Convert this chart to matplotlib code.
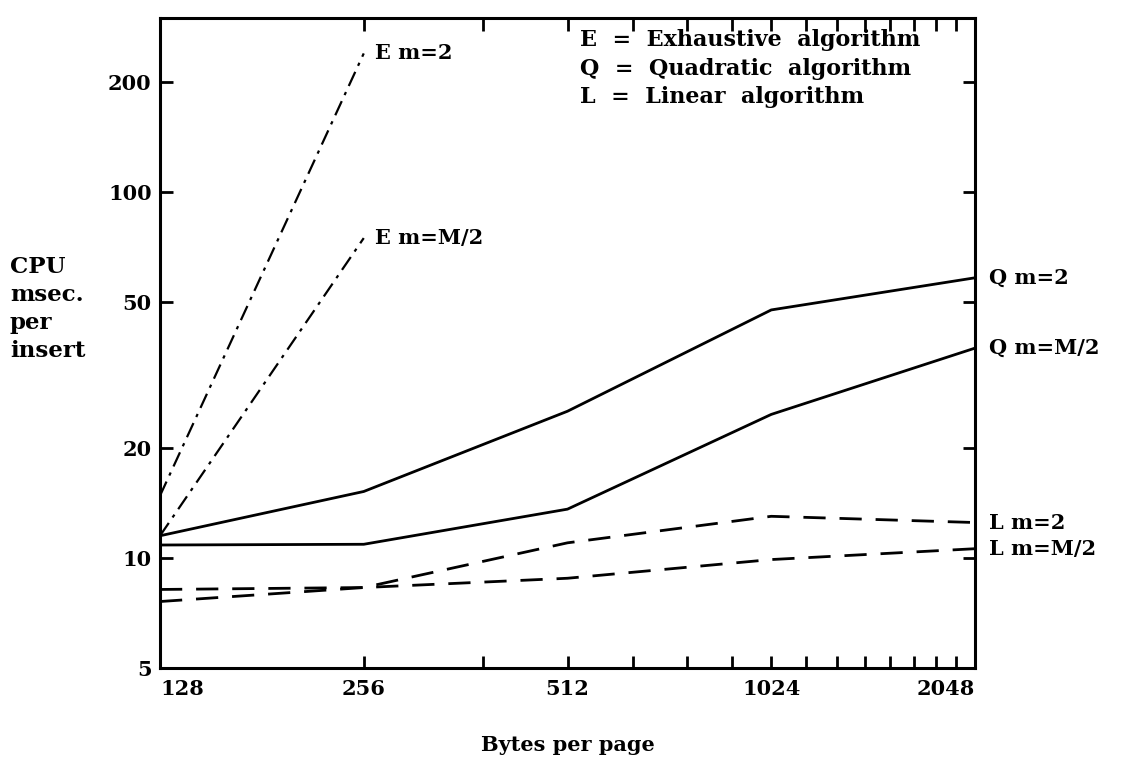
import matplotlib
matplotlib.use("Agg")
import matplotlib.pyplot as plt
from matplotlib.ticker import FixedLocator, NullLocator

plt.rcParams['font.family'] = ['DejaVu Serif']
plt.rcParams['font.weight'] = 'bold'

# Data
bytes_per_page = [128, 256, 512, 1024, 2048]
e_x = [128, 256]
e_m2 = [14.8, 240]
e_mhalf = [11.5, 75]
q_m2 = [11.5, 15.2, 25.2, 47.7, 58.4]
q_mhalf = [10.85, 10.9, 13.6, 24.7, 37.5]
l_m2 = [8.2, 8.3, 11.0, 13.0, 12.5]
l_mhalf = [7.6, 8.3, 8.8, 9.9, 10.6]

x_tick_labels = ['128', '256', '512', '1024', '2048']
y_ticks = [5, 10, 20, 50, 100, 200]
legend_lines = ['E  =  Exhaustive  algorithm', 'Q  =  Quadratic  algorithm', 'L  =  Linear  algorithm']

fig = plt.figure(figsize=(11.39, 7.59), dpi=100)
ax = fig.add_axes([160/1139, 1-668/759, (975-160)/1139, (668-18)/759])
ax.set_xscale('log', base=2)
ax.set_yscale('log')
ax.set_xlim(128, 2048)
ax.set_ylim(5, 300)

lw = 2.0
ax.plot(e_x, e_m2, color='black', lw=1.6, linestyle=(0, (7, 3, 1.5, 3)))
ax.plot(e_x, e_mhalf, color='black', lw=1.6, linestyle=(0, (7, 3, 1.5, 3)))
ax.plot(bytes_per_page, q_m2, color='black', lw=lw)
ax.plot(bytes_per_page, q_mhalf, color='black', lw=lw)
ax.plot(bytes_per_page, l_m2, color='black', lw=lw, linestyle=(0, (8, 5)))
ax.plot(bytes_per_page, l_mhalf, color='black', lw=lw, linestyle=(0, (8, 5)))

fs = 15
# End labels
ax.annotate('E m=2', xy=(e_x[-1], e_m2[-1]), xytext=(8, 0), textcoords='offset points',
            va='center', ha='left', fontsize=fs, fontweight='bold')
ax.annotate('E m=M/2', xy=(e_x[-1], e_mhalf[-1]), xytext=(8, 0), textcoords='offset points',
            va='center', ha='left', fontsize=fs, fontweight='bold')
for vals, lab in [(q_m2, 'Q m=2'), (q_mhalf, 'Q m=M/2'), (l_m2, 'L m=2'), (l_mhalf, 'L m=M/2')]:
    ax.annotate(lab, xy=(bytes_per_page[-1], vals[-1]), xytext=(10, 0), textcoords='offset points',
                va='center', ha='left', fontsize=fs, fontweight='bold', annotation_clip=False)

for i, t in enumerate(legend_lines):
    ax.text(0.515, 0.983 - i*0.044, t, transform=ax.transAxes, ha='left', va='top',
            fontsize=16, fontweight='bold')

# Ticks
ax.xaxis.set_major_locator(FixedLocator([128*k for k in range(1, 17)]))
ax.xaxis.set_minor_locator(NullLocator())
labels = [str(128*k) if str(128*k) in x_tick_labels else '' for k in range(1, 17)]
ax.set_xticklabels(labels)
ax.yaxis.set_major_locator(FixedLocator(y_ticks))
ax.yaxis.set_minor_locator(NullLocator())
ax.set_yticklabels([str(v) for v in y_ticks])
ax.tick_params(axis='both', which='major', direction='in', length=9, width=2,
               top=True, right=True, labelsize=fs, pad=6)
ax.tick_params(axis='x', pad=8)
xt = ax.get_xticklabels()
xt[0].set_horizontalalignment('left')
xt[-1].set_horizontalalignment('right')
for sp in ax.spines.values():
    sp.set_linewidth(2.2)

fig.text(10/1139, 1-256/759, 'CPU\nmsec.\nper\ninsert', ha='left', va='top',
         fontsize=16.5, fontweight='bold', linespacing=1.35)
fig.text(568/1139, 1-745/759, 'Bytes per page', ha='center', va='center',
         fontsize=fs, fontweight='bold')

fig.savefig('out.png', dpi=100)
